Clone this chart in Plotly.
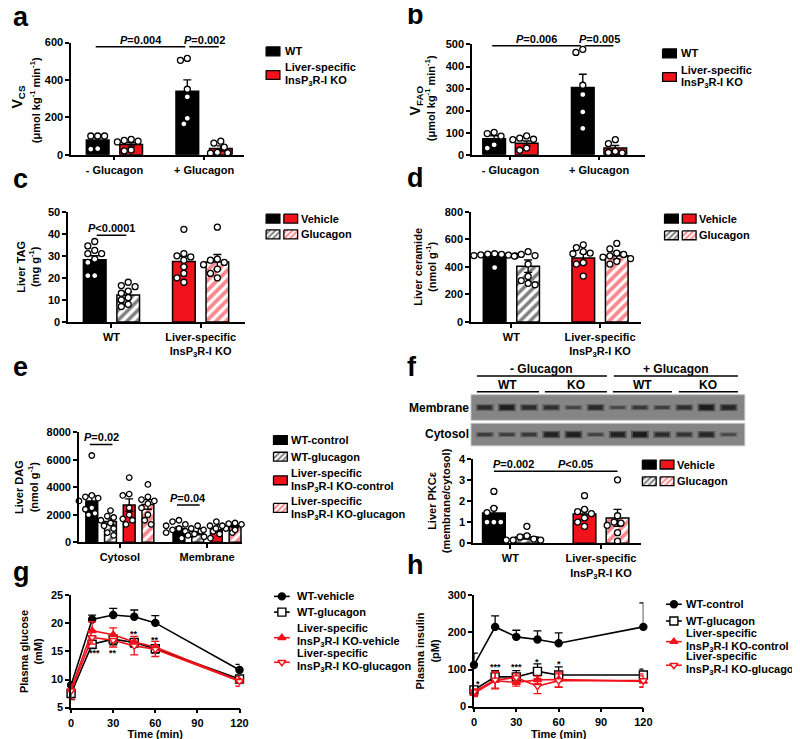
import plotly.graph_objects as go

W, H = 800, 739
RED = "#f2121b"
FONT = "Liberation Sans, Arial, Helvetica, sans-serif"

# ---------------- data ----------------
# a  V_CS
a_groups = ["- Glucagon", "+ Glucagon"]
a_wt_mean = [78, 340]
a_wt_sem = [12, 60]
a_ko_mean = [55, 33]
a_ko_sem = [9, 14]
a_wt_pts = [[100, 100, 100, 32, 30], [515, 505, 350, 310, 195, 165]]
a_ko_pts = [[82, 76, 72, 68, 25, 20], [72, 62, 40, 12, 10, 8]]

# b  V_FAO
b_wt_mean = [72, 305]
b_wt_sem = [14, 60]
b_ko_mean = [52, 30]
b_ko_sem = [10, 12]
b_wt_pts = [[101, 96, 84, 45, 30], [478, 464, 315, 273, 194, 119]]
b_ko_pts = [[85, 75, 70, 68, 30, 20], [68, 50, 15, 10, 8]]

# c  liver TAG
ko_label = "Liver-specific<br>InsP<sub>3</sub>R-I KO"
c_groups = ["WT", ko_label]
c_veh_mean = [28.2, 27.4]
c_veh_sem = [1.8, 2.4]
c_glu_mean = [12.2, 27.2]
c_glu_sem = [1.3, 3.4]
c_veh_pts = [[36.5, 34.5, 32.5, 31, 31, 28.5, 27, 21, 21], [42, 31, 30, 29.5, 28, 25, 22, 20, 18]]
c_glu_pts = [[18, 16.5, 16, 14, 13, 11, 10, 8, 7], [43, 28.5, 28, 27, 26, 24, 22, 20]]

# d  liver ceramide
d_veh_mean = [488, 464]
d_veh_sem = [12, 38]
d_glu_mean = [405, 481]
d_glu_sem = [45, 25]
d_veh_pts = [[495, 492, 490, 487, 485, 482, 480, 395], [560, 540, 510, 500, 495, 430, 420, 333]]
d_glu_pts = [[510, 490, 482, 478, 420, 330, 300, 280, 270], [570, 530, 500, 490, 480, 470, 460, 440, 420]]

# e  liver DAG
e_groups = ["Cytosol", "Membrane"]
e_wtc_mean = [3000, 1000]
e_wtc_sem = [400, 120]
e_wtg_mean = [1500, 650]
e_wtg_sem = [200, 100]
e_koc_mean = [2700, 900]
e_koc_sem = [450, 100]
e_kog_mean = [2750, 1150]
e_kog_sem = [350, 90]
e_wtc_pts = [[6300, 3400, 3300, 3200, 3000, 2500, 2400, 2100, 2000], [1600, 1500, 1300, 1200, 1000, 900, 800, 700, 600]]
e_wtg_pts = [[2300, 1900, 1800, 1600, 1400, 1200, 1000, 700, 500], [1200, 1000, 800, 600, 500, 400, 300, 300]]
e_koc_pts = [[4700, 3500, 3400, 2500, 2000, 1700, 1600, 1300], [1500, 1200, 1100, 1000, 900, 800, 700, 600]]
e_kog_pts = [[4200, 3300, 3100, 3000, 2800, 2500, 2000, 1600, 1300], [1400, 1350, 1300, 1200, 1100, 1000, 900]]

# f  PKCe ratio + blot band intensities (0 faint .. 1 strong)
f_veh_mean = [1.43, 1.38]
f_veh_sem = [0.25, 0.22]
f_glu_mean = [0.3, 1.2]
f_glu_sem = [0.1, 0.4]
f_veh_pts = [[2.45, 1.65, 1.45, 1.0, 1.0, 1.0], [2.25, 1.6, 1.5, 1.4, 1.2, 1.0, 0.8]]
f_glu_pts = [[0.8, 0.35, 0.3, 0.2, 0.15, 0.15, 0.15], [3.0, 1.3, 1.0, 0.95, 0.85, 0.5, 0.1]]
blot_membrane = [0.7, 0.9, 0.7, 0.65, 0.35, 0.75, 0.3, 0.5, 0.4, 0.65, 0.95, 0.8]
blot_cytosol = [0.45, 0.4, 0.5, 0.85, 0.9, 0.35, 0.85, 0.95, 0.7, 0.6, 0.8, 0.3]

# g  plasma glucose
time_min = [0, 15, 30, 45, 60, 120]
g_wtv = [9.0, 20.7, 21.5, 21.2, 20.1, 11.7]
g_wtv_err = [0.4, 0.8, 1.2, 1.2, 1.3, 1.0]
g_wtg = [7.5, 16.3, 17.2, 16.6, 15.5, 10.1]
g_wtg_err = [1.1, 0.8, 1.0, 0.8, 0.8, 0.6]
g_kov = [8.3, 18.7, 18.0, 16.7, 15.8, 9.8]
g_kov_err = [0.8, 1.6, 1.2, 1.0, 1.0, 0.7]
g_kog = [8.0, 17.5, 17.0, 16.0, 15.4, 9.7]
g_kog_err = [1.5, 1.2, 1.2, 1.6, 1.3, 0.9]
g_stars = ["***", "**", "**", "**"]
g_star_t = [17, 30, 45, 60]
g_star_y = [14.7, 14.7, 18.2, 17.1]

# h  plasma insulin
h_wtc = [112, 215, 188, 181, 171, 215]
h_wtc_err = [32, 30, 18, 23, 28, 65]
h_wtg = [45, 80, 80, 95, 85, 85]
h_wtg_err = [5, 17, 17, 20, 22, 16]
h_koc = [35, 70, 65, 72, 73, 68]
h_koc_err = [8, 22, 10, 10, 20, 15]
h_kog = [40, 72, 78, 55, 70, 70]
h_kog_err = [8, 22, 10, 20, 18, 18]
h_stars = ["*", "***", "***", "*", "*"]
h_star_t = [3, 15, 30, 45, 60]
h_star_y = [62, 106, 106, 120, 114]

# ---------------- geometry (pixels) ----------------
PANELS = {
    1: (61, 237, 29, 143),
    2: (468, 644, 31, 143),
    3: (58, 238, 201, 313),
    4: (467, 640, 201, 313),
    5: (69, 235, 425, 537),
    6: (469, 640, 452, 538),
    7: (61, 232, 591, 705),
    8: (470, 642, 591, 704),
}
BARGEO = {  # first group centre, group step, bar step, bar width
    1: (44, 91, 34, 23),
    2: (39, 90, 33, 23),
    3: (44, 90.5, 34, 23),
    4: (41, 90, 34, 23),
    5: (41.5, 88.5, 19, 12),
    6: (38, 92, 33.5, 23),
}

STY = {
    "wt": dict(color="black"),
    "ko": dict(color=RED),
    "wth": dict(color="white", pattern=dict(shape="/", fgcolor="black", bgcolor="white", size=7, solidity=0.5)),
    "koh": dict(color="white", pattern=dict(shape="/", fgcolor=RED, bgcolor="white", size=7, solidity=0.55)),
}

fig = go.Figure()
layout = {}


def aid(k):
    return "" if k == 1 else str(k)


def add_axes(k, yr, dtick, ytitle, xtickvals=None, xticktext=None, xr=None, xtitle=None):
    x0, x1, yt, yb = PANELS[k]
    common = dict(showline=True, linecolor="black", linewidth=1.5, ticks="outside", ticklen=4,
                  tickwidth=1.5, tickcolor="black", showgrid=False, zeroline=False, fixedrange=True,
                  tickfont=dict(size=11, family=FONT, color="black", weight="bold"))
    xa = dict(common, domain=[x0 / W, x1 / W], range=xr if xr else [0, x1 - x0], anchor="y" + aid(k))
    if xtickvals is not None:
        xa.update(tickvals=xtickvals, ticktext=xticktext)
    if xtitle:
        xa["title"] = dict(text=xtitle, font=dict(size=11, weight="bold"), standoff=2)
    ya = dict(common, domain=[1 - yb / H, 1 - yt / H], range=yr, dtick=dtick, tick0=yr[0],
              anchor="x" + aid(k))
    if ytitle:
        ya["title"] = dict(text=ytitle, font=dict(size=11, weight="bold"), standoff=6)
    layout["xaxis" + aid(k)] = xa
    layout["yaxis" + aid(k)] = ya


def swarm(vals, ppu, d):
    offs = [0.0] * len(vals)
    placed = []
    cands = [0.0]
    for j in range(1, 10):
        cands += [-j * d / 2, j * d / 2]
    for i in sorted(range(len(vals)), key=lambda i: -vals[i]):
        y = vals[i] * ppu
        for c in cands:
            if all((c - px) ** 2 + (y - py) ** 2 >= d * d * 0.9 for px, py in placed):
                offs[i] = c
                placed.append((c, y))
                break
    return offs


def bar_panel(k, means, sems, pts, styles, ymax, msize=6):
    gc0, G, S, bw = BARGEO[k]
    x0, x1, yt, yb = PANELS[k]
    ppu = (yb - yt) / ymax
    n = len(means)
    pos = {}
    for g in range(len(means[0])):
        for s in range(n):
            x = gc0 + g * G + (s - (n - 1) / 2) * S
            pos[(g, s)] = x
            fig.add_trace(go.Bar(
                x=[x], y=[means[s][g]], width=bw, xaxis="x" + aid(k), yaxis="y" + aid(k),
                marker=dict(line=dict(color="black", width=1.5), **STY[styles[g][s]]),
                error_y=dict(type="data", array=[sems[s][g]], color="black", thickness=1.4, width=4),
                showlegend=False, hoverinfo="skip"))
    for g in range(len(means[0])):
        for s in range(n):
            vals = pts[s][g]
            offs = swarm(vals, ppu, msize + 1)
            fig.add_trace(go.Scatter(
                x=[pos[(g, s)] + o for o in offs], y=vals, mode="markers", cliponaxis=False,
                xaxis="x" + aid(k), yaxis="y" + aid(k), showlegend=False, hoverinfo="skip",
                marker=dict(symbol="circle", size=msize, color="white", line=dict(color="black", width=1.3))))
    return pos


def sig(k, xa, xb, y, text, gap=2):
    fig.add_shape(type="line", x0=xa + gap, x1=xb - gap, y0=y, y1=y, xref="x" + aid(k), yref="y" + aid(k),
                  line=dict(color="black", width=1.5))
    fig.add_annotation(x=(xa + xb) / 2, y=y, xref="x" + aid(k), yref="y" + aid(k), text=text,
                       showarrow=False, yanchor="bottom", yshift=-1, font=dict(size=11, weight="bold"))


def px_text(x, y, text, size=11, xanchor="left", yanchor="middle", angle=0):
    fig.add_annotation(x=x, y=y, xref="x9", yref="y9", text=text, showarrow=False, textangle=angle,
                       xanchor=xanchor, yanchor=yanchor, font=dict(size=size, weight="bold"))


def px_square(cx, cy, key, w=14, h=9):
    st = STY[key]
    tr = go.Scatter(x=[cx - w / 2, cx + w / 2, cx + w / 2, cx - w / 2, cx - w / 2],
                    y=[cy - h / 2, cy - h / 2, cy + h / 2, cy + h / 2, cy - h / 2],
                    mode="lines", fill="toself", fillcolor=st["color"], line=dict(color="black", width=1.3),
                    xaxis="x9", yaxis="y9", showlegend=False, hoverinfo="skip")
    if "pattern" in st:
        p = st["pattern"]
        tr.update(fillpattern=dict(shape="/", fgcolor=p["fgcolor"], bgcolor="white", size=4, solidity=0.5))
    fig.add_trace(tr)


# ---------------- panels a-f ----------------
add_axes(1, [0, 600], 200, None, [BARGEO[1][0] + g * BARGEO[1][1] for g in range(2)], a_groups)
pa = bar_panel(1, [a_wt_mean, a_ko_mean], [a_wt_sem, a_ko_sem], [a_wt_pts, a_ko_pts],
               [["wt", "ko"], ["wt", "ko"]], 600)
sig(1, pa[(0, 0)] - 4, pa[(1, 0)], 578, "<i>P</i>=0.004")
sig(1, pa[(1, 0)], pa[(1, 1)], 578, "<i>P</i>=0.002")

add_axes(2, [0, 500], 100, None, [BARGEO[2][0] + g * BARGEO[2][1] for g in range(2)], a_groups)
pb = bar_panel(2, [b_wt_mean, b_ko_mean], [b_wt_sem, b_ko_sem], [b_wt_pts, b_ko_pts],
               [["wt", "ko"], ["wt", "ko"]], 500)
sig(2, pb[(0, 0)] - 4, pb[(1, 0)], 494, "<i>P</i>=0.006")
sig(2, pb[(1, 0)], pb[(1, 1)], 494, "<i>P</i>=0.005")

add_axes(3, [0, 50], 10, "Liver TAG<br>(mg g<sup>-1</sup>)",
         [BARGEO[3][0] + g * BARGEO[3][1] for g in range(2)], c_groups)
pc = bar_panel(3, [c_veh_mean, c_glu_mean], [c_veh_sem, c_glu_sem], [c_veh_pts, c_glu_pts],
               [["wt", "wth"], ["ko", "koh"]], 50)
sig(3, pc[(0, 0)], pc[(0, 1)], 39.3, "<i>P</i><0.0001")

add_axes(4, [0, 800], 200, "Liver ceramide<br>(nmol g<sup>-1</sup>)",
         [BARGEO[4][0] + g * BARGEO[4][1] for g in range(2)], c_groups)
bar_panel(4, [d_veh_mean, d_glu_mean], [d_veh_sem, d_glu_sem], [d_veh_pts, d_glu_pts],
          [["wt", "wth"], ["ko", "koh"]], 800)

add_axes(5, [0, 8000], 2000, "Liver DAG<br>(nmol g<sup>-1</sup>)",
         [BARGEO[5][0] + g * BARGEO[5][1] for g in range(2)], e_groups)
pe = bar_panel(5, [e_wtc_mean, e_wtg_mean, e_koc_mean, e_kog_mean],
               [e_wtc_sem, e_wtg_sem, e_koc_sem, e_kog_sem],
               [e_wtc_pts, e_wtg_pts, e_koc_pts, e_kog_pts],
               [["wt", "wth", "ko", "koh"]] * 2, 8000, msize=5.5)
sig(5, pe[(0, 0)], pe[(0, 1)], 7100, "<i>P</i>=0.02", gap=-2)
sig(5, pe[(1, 0)], pe[(1, 1)], 2700, "<i>P</i>=0.04", gap=-2)

add_axes(6, [0, 4], 1, "Liver PKCε<br>(membrane/cytosol)",
         [BARGEO[6][0] + g * BARGEO[6][1] for g in range(2)], ["WT", ko_label])
pf = bar_panel(6, [f_veh_mean, f_glu_mean], [f_veh_sem, f_glu_sem], [f_veh_pts, f_glu_pts],
               [["wt", "wth"], ["ko", "koh"]], 4)
sig(6, pf[(0, 0)], pf[(0, 1)] + 6, 3.4, "<i>P</i>=0.002", gap=0)
sig(6, pf[(0, 1)] + 6, pf[(1, 1)], 3.4, "<i>P</i><0.05", gap=0)

# ---------------- panels g-h ----------------
add_axes(7, [5, 25], 5, "Plasma glucose<br>(mM)", [0, 30, 60, 90, 120], ["0", "30", "60", "90", "120"],
         xr=[0, 120], xtitle="Time (min)")
add_axes(8, [0, 300], 100, "Plasma insulin<br>(pM)", [0, 30, 60, 90, 120], ["0", "30", "60", "90", "120"],
         xr=[0, 120], xtitle="Time (min)")

LINE_STY = [
    dict(color="black", symbol="circle", fill="black", size=7),
    dict(color="black", symbol="square", fill="white", size=8),
    dict(color=RED, symbol="triangle-up", fill=RED, size=7),
    dict(color=RED, symbol="triangle-down", fill="white", size=7),
]


def time_series(k, ys, errs, dirs):
    for y, e, st, dr in zip(ys, errs, LINE_STY, dirs):
        err = dict(type="data", color=st["color"], thickness=1.3, width=4)
        if dr == "up":
            err.update(symmetric=False, array=e, arrayminus=[0] * len(e))
        elif dr == "down":
            err.update(symmetric=False, array=[0] * len(e), arrayminus=e)
        else:
            err.update(array=e)
        fig.add_trace(go.Scatter(
            x=time_min, y=y, mode="lines+markers", error_y=err, cliponaxis=False,
            xaxis="x" + aid(k), yaxis="y" + aid(k), showlegend=False, hoverinfo="skip",
            line=dict(color=st["color"], width=1.6),
            marker=dict(symbol=st["symbol"], size=st["size"], color=st["fill"],
                        line=dict(color=st["color"], width=1.4))))


time_series(7, [g_wtv, g_wtg, g_kov, g_kog], [g_wtv_err, g_wtg_err, g_kov_err, g_kog_err],
            ["up", "down", "up", "down"])
for t, y, s in zip(g_star_t, g_star_y, g_stars):
    fig.add_annotation(x=t, y=y, xref="x7", yref="y7", text=s, showarrow=False, font=dict(size=9, weight="bold"))

time_series(8, [h_wtc, h_wtg, h_koc, h_kog], [h_wtc_err, h_wtg_err, h_koc_err, h_kog_err],
            ["up", "up", "both", "both"])
for t, y, s in zip(h_star_t, h_star_y, h_stars):
    fig.add_annotation(x=t, y=y, xref="x8", yref="y8", text=s, showarrow=False, font=dict(size=9, weight="bold"))

# ---------------- overlay in pixel units: legends, blot, letters ----------------
layout["xaxis9"] = dict(domain=[0, 1], range=[0, W], visible=False, fixedrange=True, anchor="y9")
layout["yaxis9"] = dict(domain=[0, 1], range=[H, 0], visible=False, fixedrange=True, anchor="x9")

# rotated two-size titles of a and b
unit_txt = "(μmol kg<sup>-1</sup> min<sup>-1</sup>)"
px_text(7, 84, "V<sub>CS</sub>", 14, xanchor="center", angle=-90)
px_text(24, 88, unit_txt, 11, xanchor="center", angle=-90)
px_text(411, 88, "V<sub>FAO</sub>", 14, xanchor="center", angle=-90)
px_text(425, 86, unit_txt, 11, xanchor="center", angle=-90)

ins = "InsP<sub>3</sub>R-I KO"
# a, b legends
for lx, ys in ((266, (38, 62, 54, 68)), (668.5, (40, 64, 57, 70))):
    px_square(lx, ys[0], "wt")
    px_square(lx, ys[1], "ko")
    px_text(lx + 10, ys[0], "WT")
    px_text(lx + 10, ys[2], "Liver-specific")
    px_text(lx + 10, ys[3], ins)
# c, d, f legends
for lx, ys in ((266, (208, 224)), (670.5, (208, 225)), (648, (458, 475))):
    px_square(lx, ys[0], "wt")
    px_square(lx + 18, ys[0], "ko")
    px_square(lx, ys[1], "wth")
    px_square(lx + 18, ys[1], "koh")
    px_text(lx + 26, ys[0], "Vehicle")
    px_text(lx + 26, ys[1], "Glucagon")
# e legend
for key, yy in zip(["wt", "wth", "ko", "koh"], [433, 450, 474, 502]):
    px_square(273.5, yy, key)
px_text(282, 433, "WT-control")
px_text(282, 450, "WT-glucagon")
px_text(282, 467, "Liver-specific")
px_text(282, 481, ins + "-control")
px_text(282, 495, "Liver-specific")
px_text(282, 509, ins + "-glucagon")


def line_legend(cx, rows, labels, dx=13):
    for st, yy in zip(LINE_STY, rows):
        fig.add_trace(go.Scatter(x=[cx - 8, cx + 8], y=[yy, yy], mode="lines", xaxis="x9", yaxis="y9",
                                 line=dict(color=st["color"], width=1.6), showlegend=False, hoverinfo="skip"))
        fig.add_trace(go.Scatter(x=[cx], y=[yy], mode="markers", xaxis="x9", yaxis="y9",
                                 marker=dict(symbol=st["symbol"], size=st["size"], color=st["fill"],
                                             line=dict(color=st["color"], width=1.4)),
                                 showlegend=False, hoverinfo="skip"))
    for (yy, txt) in labels:
        px_text(cx + dx, yy, txt)


line_legend(275, [592, 608, 634, 659],
            [(592, "WT-vehicle"), (608, "WT-glucagon"), (624, "Liver-specific"), (638, ins + "-vehicle"),
             (650, "Liver-specific"), (664, ins + "-glucagon")])
line_legend(673, [600, 617, 638, 662],
            [(600, "WT-control"), (617, "WT-glucagon"), (629, "Liver-specific"), (643, ins + "-control"),
             (653, "Liver-specific"), (667, ins + "-glucagon")], dx=10)

# western blot
lane0, lane_step = 481, 22.5
for (y0, y1, bands) in ((387, 413, blot_membrane), (416, 439, blot_cytosol)):
    fig.add_shape(type="rect", x0=467, x1=745, y0=y0, y1=y1, xref="x9", yref="y9",
                  fillcolor="#858585", line=dict(color="#c4c4c4", width=1), layer="below")
    cy = (y0 + y1) / 2
    for i, v in enumerate(bands):
        cx = lane0 + i * lane_step
        g_outer = int(118 - 40 * v)
        g_inner = int(90 - 65 * v)
        fig.add_trace(go.Scatter(x=[cx - 9, cx + 9], y=[cy, cy], mode="lines", xaxis="x9", yaxis="y9",
                                 line=dict(color=f"rgb({g_outer},{g_outer},{g_outer})", width=3 + 5 * v),
                                 showlegend=False, hoverinfo="skip"))
        fig.add_trace(go.Scatter(x=[cx - 7, cx + 7], y=[cy, cy], mode="lines", xaxis="x9", yaxis="y9",
                                 line=dict(color=f"rgb({g_inner},{g_inner},{g_inner})", width=1.5 + 3.5 * v),
                                 showlegend=False, hoverinfo="skip"))
px_text(467, 400, "Membrane", 12, xanchor="right")
px_text(467, 427, "Cytosol", 12, xanchor="right")
for (xa, xb, yy, txt) in ((473, 605, 368, "- Glucagon"), (612, 738, 368, "+ Glucagon"),
                          (473, 536, 384, "WT"), (542, 605, 384, "KO"),
                          (611, 671, 384, "WT"), (678, 738, 384, "KO")):
    fig.add_shape(type="line", x0=xa, x1=xb, y0=yy, y1=yy, xref="x9", yref="y9",
                  line=dict(color="black", width=1.5))
    px_text((xa + xb) / 2, yy - 7, txt, 12, xanchor="center")

# panel letters
for (lx, ly, t) in ((0, 3, "a"), (400, 1, "b"), (0, 168, "c"), (400, 167, "d"),
                    (0, 359, "e"), (400, 359, "f"), (0, 567, "g"), (400, 560, "h")):
    px_text(lx, ly, t, 27)

fig.update_layout(
    width=W, height=H, margin=dict(l=0, r=0, t=0, b=0),
    paper_bgcolor="white", plot_bgcolor="rgba(0,0,0,0)",
    barmode="overlay", showlegend=False,
    font=dict(family=FONT, size=11, color="black", weight="bold"),
    **layout,
)
fig.write_html("out.html")
